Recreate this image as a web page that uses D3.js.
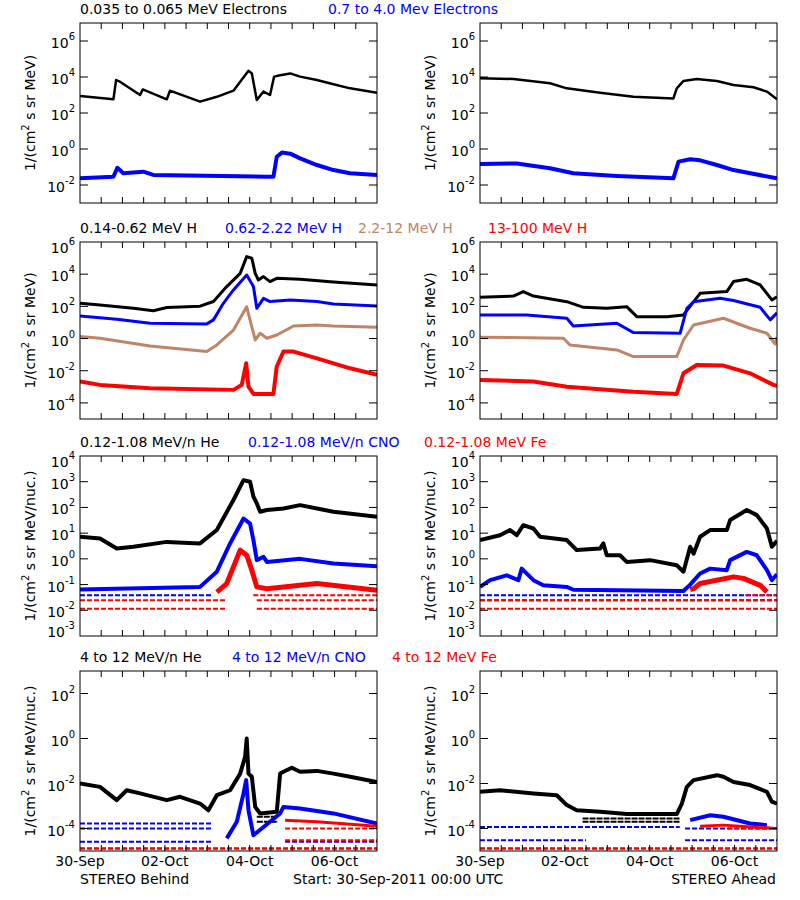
<!DOCTYPE html>
<html><head><meta charset="utf-8">
<script src="https://cdn.jsdelivr.net/npm/d3@7"></script>
<style>body{margin:0;background:#fff}text{font-family:"DejaVu Sans",sans-serif;font-size:14px}</style>
</head><body><svg id="c" width="800" height="900"></svg>
<script>
// hours since 30-Sep-2011 00:00, log10 flux
var days = ["30-Sep", "02-Oct", "04-Oct", "06-Oct"];

// row 1: electrons
var eLoB = [[0,2.94],[18.9,2.76],[20.4,3.83],[22.6,3.74],[34,3.0],[35.5,3.31],[49.1,2.76],[50.9,3.24],[67.9,2.63],[77.4,2.9],[86.8,3.24],[93.4,4.1],[95.3,4.35],[97.2,4.2],[100,2.72],[103.8,3.19],[107.5,3.0],[109.8,4.02],[113.2,4.1],[118.9,4.2],[124.5,4.02],[134,3.83],[143.4,3.6],[152.8,3.37],[168,3.13]];
var eHiB = [[0,-1.63],[18.9,-1.54],[21.1,-1.04],[24.5,-1.35],[35.8,-1.26],[41.5,-1.44],[105.7,-1.54],[109.4,-1.54],[111.3,-0.43],[114.2,-0.2],[118.9,-0.26],[124.5,-0.52],[134,-0.89],[143.4,-1.17],[152.8,-1.35],[168,-1.44]];
var eLoA = [[0,3.93],[18.9,3.89],[39.6,3.65],[49.1,3.37],[67.9,3.13],[86.8,2.9],[109.4,2.81],[111.3,3.37],[115.1,3.78],[122.6,3.89],[134,3.78],[143.4,3.56],[154.7,3.43],[162.3,3.19],[168,2.76]];
var eHiA = [[0,-0.83],[20.8,-0.8],[39.6,-1.07],[52.8,-1.35],[77.4,-1.5],[109.4,-1.63],[112.3,-0.7],[118.9,-0.57],[124.5,-0.63],[134,-0.89],[143.4,-1.17],[168,-1.63]];

// row 2: protons
var h1B = [[0,2.19],[11.3,2.09],[30.2,1.88],[41.5,1.73],[49.1,1.93],[67.9,2.01],[75.5,2.3],[83,3.23],[90.6,4.05],[94.3,5.09],[97.2,4.99],[99.1,4.05],[100.9,3.64],[103.8,3.85],[107.5,3.54],[111.3,3.74],[124.5,3.68],[143.4,3.52],[168,3.33]];
var h2B = [[0,1.4],[20.8,1.2],[39.6,0.95],[71.7,0.91],[75.5,1.16],[81.1,2.19],[86.8,3.02],[94.3,3.95],[98.1,3.23],[100,1.88],[103.8,2.5],[107.5,2.3],[118.9,2.4],[134,2.3],[143.4,2.15],[168,2.02]];
var h3B = [[0,0.12],[11.3,0.02],[39.6,-0.46],[71.7,-0.81],[77.4,-0.4],[86.8,0.53],[94.3,1.98],[96.2,1.15],[99.1,-0.09],[101.9,0.33],[105.7,0.02],[111.3,0.22],[120.8,0.78],[134,0.84],[143.4,0.78],[168,0.7]];
var h4B = [[0,-2.67],[11.3,-2.88],[39.6,-3.09],[86.8,-3.19],[91.5,-2.88],[94,-1.54],[95.3,-2.99],[98.1,-3.44],[109.4,-3.44],[111.3,-1.74],[115.1,-0.81],[120.8,-0.81],[134,-1.23],[152.8,-1.85],[168,-2.26]];
var h1A = [[0,2.56],[18.9,2.64],[24.5,2.92],[30.2,2.64],[49.1,2.29],[58.5,1.94],[71.7,1.88],[83,1.98],[88.7,1.36],[105.7,1.36],[115.1,1.47],[124.5,2.81],[139.6,2.92],[143.4,3.54],[150.9,3.68],[158.5,3.33],[165.1,2.4],[168,2.6]];
var h2A = [[0,1.47],[26.4,1.47],[49.1,1.26],[52.8,0.78],[77.4,0.95],[86.8,0.37],[113.2,0.33],[117,1.88],[120.8,2.29],[135.8,2.5],[143.4,2.36],[158.5,1.94],[164.2,1.16],[168,1.6]];
var h3A = [[0,0.08],[47.2,0.02],[50.9,-0.4],[77.4,-0.71],[86.8,-1.12],[111.3,-1.12],[115.1,-0.09],[120.8,0.84],[137.7,1.26],[152.8,0.64],[162.3,0.33],[167,-0.34],[168,0.1]];
var h4A = [[0,-2.57],[30.2,-2.67],[49.1,-2.99],[86.8,-3.3],[111.3,-3.44],[115.1,-2.16],[122.6,-1.64],[137.7,-1.68],[152.8,-2.16],[166,-2.88],[168,-2.94]];

// row 3: 0.12-1.08 MeV/n heavy ions
var heB = [[0,0.86],[11.3,0.79],[20.8,0.4],[30.2,0.47],[49.1,0.66],[67.9,0.6],[77.4,1.12],[86.8,2.29],[92.5,3.06],[96.2,3.0],[98.1,2.42],[100,2.16],[101.9,1.83],[105.7,1.9],[115.1,1.96],[124.5,2.09],[143.4,1.83],[168,1.64]];
var cnoB = [[0,-1.19],[67.9,-1.09],[77.4,-0.5],[84.9,0.6],[92.5,1.57],[96.2,1.37],[98.1,0.73],[100,-0.05],[103.8,0.08],[105.7,-0.12],[124.5,0.0],[143.4,-0.18],[168,-0.29]];
var feB = [[77.4,-1.29],[83,-0.96],[86.8,-0.31],[90.6,0.34],[94.3,0.14],[97.2,-0.44],[100,-1.09],[105.7,-1.16],[134,-0.96],[168,-1.22]];
var heA = [[0,0.73],[11.3,0.92],[17,1.12],[20.8,0.92],[24.5,1.31],[30.2,1.18],[34,0.86],[49.1,0.73],[54.7,0.34],[67.9,0.4],[69.8,0.6],[71.7,0.14],[79.2,0.14],[83,-0.12],[96.2,-0.05],[111.3,-0.25],[115.1,-0.5],[118.9,0.47],[120.8,0.2],[124.5,0.86],[130.2,1.12],[139.6,1.12],[141.5,1.51],[150.9,1.9],[156.6,1.7],[162.3,1.18],[165.1,0.47],[168,0.7]];
var cnoA = [[0,-1.09],[5.7,-0.83],[15.1,-0.64],[21.7,-0.83],[23.6,-0.38],[30.2,-0.83],[35.8,-1.03],[49.1,-1.09],[52.8,-1.2],[115.1,-1.25],[118.9,-1.0],[124.5,-0.57],[130.2,-0.38],[139.6,-0.44],[141.5,-0.05],[150.9,0.27],[156.6,0.14],[162.3,-0.44],[165.1,-0.83],[168,-0.6]];
var feA = [[118.9,-1.2],[120.8,-1.16],[124.5,-0.96],[143.4,-0.7],[149,-0.76],[158.5,-1.03],[162.3,-1.29]];

// row 4: 4-12 MeV/n heavy ions
var he4B = [[0,-2.0],[11.3,-2.15],[20.8,-2.74],[26.4,-2.3],[34,-2.44],[49.1,-2.74],[56.6,-2.59],[67.9,-2.89],[72.6,-3.19],[77.4,-2.52],[84.9,-2.3],[90.6,-1.56],[93.4,-0.81],[94.3,0.0],[95.3,-1.56],[97.2,-1.7],[99.1,-3.04],[101.9,-3.33],[111.3,-3.26],[113.2,-1.56],[115.1,-1.48],[119.8,-1.3],[124.5,-1.48],[134,-1.44],[143.4,-1.56],[152.8,-1.7],[168,-1.93]];
var cno4B = [[83,-4.44],[88.7,-3.7],[92.5,-2.44],[94,-1.85],[95.3,-3.19],[98.1,-4.3],[113.2,-3.33],[115.1,-3.04],[124.5,-3.11],[143.4,-3.33],[168,-3.78]];
var fe4B = [[116,-3.63],[134,-3.7],[168,-3.9]];
var he4A = [[0,-2.37],[11.3,-2.3],[30.2,-2.44],[43.4,-2.52],[49.1,-2.96],[54.7,-3.19],[67.9,-3.26],[83,-3.36],[111.3,-3.36],[114.2,-2.89],[117,-2.15],[120.8,-1.85],[134,-1.63],[137.7,-1.7],[143.4,-1.93],[152.8,-2.07],[162.3,-2.37],[165.1,-2.81],[168,-2.9]];
var cno4A = [[118.9,-3.63],[130.2,-3.41],[137.7,-3.48],[152.8,-3.78],[162.3,-3.85]];
var fe4A = [[124.5,-3.9],[137.7,-3.85],[168,-4.0]];

// background floor levels: [start hour, end hour, log10]
var flB3 = {blue:[[0,75,-1.42]], red:[[0,83,-1.61],[0,83,-1.94],[100,168,-1.61],[100,168,-1.94],[98,168,-1.42]]};
var flA3 = {blue:[[0,168,-1.42],[0,168,-1.61]], red:[[0,168,-1.94],[0,168,-1.61],[150,168,-1.42]]};
var flB4 = {black:[[100,112,-3.48],[100,112,-3.7]], blue:[[0,75,-3.78],[0,75,-4.0],[0,75,-4.59],[0,168,-4.89],[116,168,-4.59]], red:[[0,168,-4.89],[116,168,-4.0],[116,168,-4.52]]};
var flA4 = {black:[[58,113,-3.55],[58,113,-3.7]], blue:[[0,113,-3.93],[0,60,-4.52],[0,168,-4.89],[116,168,-4.52],[116,168,-4.0]], red:[[0,168,-4.89],[140,168,-4.0]]};

var tan = "#c08468";
var rows = [
  {top:23, bot:203, dom:[-3,7], unit:"MeV)",
   titles:[["0.035 to 0.065 MeV Electrons","#000",80],["0.7 to 4.0 Mev Electrons","#0000ff",328]],
   left:[[eLoB,"#000",2.5],[eHiB,"#0000ff",4]], right:[[eLoA,"#000",2.5],[eHiA,"#0000ff",4]]},
  {top:242, bot:419, dom:[-5,6], unit:"MeV)",
   titles:[["0.14-0.62 MeV H","#000",80],["0.62-2.22 MeV H","#0000ff",225],["2.2-12 MeV H",tan,358],["13-100 MeV H","#ff0000",488]],
   left:[[h1B,"#000",3],[h2B,"#0000ff",3],[h3B,tan,3],[h4B,"#ff0000",4]], right:[[h1A,"#000",3],[h2A,"#0000ff",3],[h3A,tan,3],[h4A,"#ff0000",4]]},
  {top:456, bot:636, dom:[-3,4], every:1, unit:"MeV/nuc.)",
   titles:[["0.12-1.08 MeV/n He","#000",80],["0.12-1.08 MeV/n CNO","#0000ff",248],["0.12-1.08 MeV Fe","#ff0000",424]],
   left:[[heB,"#000",4],[cnoB,"#0000ff",4],[feB,"#ff0000",5]], right:[[heA,"#000",4],[cnoA,"#0000ff",4],[feA,"#ff0000",5]],
   floorL:flB3, floorR:flA3},
  {top:671, bot:851, dom:[-5,3], unit:"MeV/nuc.)",
   titles:[["4 to 12 MeV/n He","#000",80],["4 to 12 MeV/n CNO","#0000ff",232],["4 to 12 MeV Fe","#ff0000",392]],
   left:[[he4B,"#000",4],[cno4B,"#0000ff",4],[fe4B,"#ff0000",3]], right:[[he4A,"#000",4],[cno4A,"#0000ff",4],[fe4A,"#ff0000",3]],
   floorL:flB4, floorR:flA4}
];
var fcol = {black:"#000", blue:"#0000ff", red:"#ff0000"};

var svg = d3.select("#c");

function panel(r, x0, series, floors) {
  var x = d3.scaleLinear().domain([0,168]).range([x0, x0+297]);
  var y = d3.scaleLog().domain([Math.pow(10,r.dom[0]), Math.pow(10,r.dom[1])]).range([r.bot, r.top]);
  var g = svg.append("g");
  var clip = "cl" + x0 + r.top;
  g.append("clipPath").attr("id", clip).append("rect").attr("x", x0).attr("y", r.top).attr("width", 297).attr("height", r.bot-r.top);
  var pg = g.append("g").attr("clip-path", "url(#" + clip + ")");
  if (floors) {
    ["black","blue","red"].forEach(function(k) {
      (floors[k] || []).forEach(function(f) {
        pg.append("line").attr("x1", x(f[0])).attr("x2", x(f[1])).attr("y1", y(Math.pow(10,f[2]))).attr("y2", y(Math.pow(10,f[2])))
          .attr("stroke", fcol[k]).attr("stroke-width", 2).attr("stroke-dasharray", k=="black" ? "6,1" : "5,2");
      });
    });
  }
  var line = d3.line().x(function(d){return x(d[0]);}).y(function(d){return y(Math.pow(10,d[1]));});
  series.forEach(function(s) {
    pg.append("path").attr("d", line(s[0])).attr("fill", "none").attr("stroke", s[1]).attr("stroke-width", s[2]).attr("stroke-linejoin", "round");
  });
  g.append("rect").attr("x", x0).attr("y", r.top).attr("width", 297).attr("height", r.bot-r.top).attr("fill", "none").attr("stroke", "#000");
  d3.range(12, 168, 12).forEach(function(h) {
    [[r.bot, r.bot-6],[r.top, r.top+6]].forEach(function(p) {
      g.append("line").attr("x1", x(h)).attr("x2", x(h)).attr("y1", p[0]).attr("y2", p[1]).attr("stroke", "#000");
    });
  });
  d3.range(r.dom[0], r.dom[1]+1).forEach(function(e) {
    if (!r.every && e % 2 != 0) return;
    var yy = y(Math.pow(10,e));
    if (e != r.dom[0] && e != r.dom[1]) {
      g.append("line").attr("x1", x0).attr("x2", x0+8).attr("y1", yy).attr("y2", yy).attr("stroke", "#000");
      g.append("line").attr("x1", x0+297).attr("x2", x0+289).attr("y1", yy).attr("y2", yy).attr("stroke", "#000");
    }
    var dy = e == r.dom[0] ? 1 : (e == r.dom[1] ? 11 : 7);
    var t = g.append("text").attr("x", x0-5).attr("y", yy+dy).attr("text-anchor", "end").attr("font-size", 15);
    t.append("tspan").text("10");
    t.append("tspan").attr("dy", -8).attr("font-size", 10).text(e);
  });
  var cy = (r.top + r.bot)/2;
  var yt = g.append("text").attr("transform", "translate(" + (x0-45) + "," + cy + ") rotate(-90)").attr("text-anchor", "middle");
  yt.append("tspan").text("1/(cm");
  yt.append("tspan").attr("dy", -6).attr("font-size", 10).text("2");
  yt.append("tspan").attr("dy", 6).text(" s sr " + r.unit);
  return x;
}

rows.forEach(function(r, i) {
  var xl = panel(r, 80, r.left, r.floorL);
  var xr = panel(r, 480, r.right, r.floorR);
  r.titles.forEach(function(t) {
    svg.append("text").attr("x", t[2]).attr("y", r.top-9).attr("fill", t[1]).text(t[0]);
  });
  if (i == 3) {
    [xl, xr].forEach(function(x) {
      days.forEach(function(d, k) {
        svg.append("text").attr("x", x(k*48)).attr("y", 866).attr("text-anchor", "middle").text(d);
      });
    });
  }
});
svg.append("text").attr("x", 80).attr("y", 884).text("STEREO Behind");
svg.append("text").attr("x", 293).attr("y", 884).text("Start: 30-Sep-2011 00:00 UTC");
svg.append("text").attr("x", 776).attr("y", 884).attr("text-anchor", "end").text("STEREO Ahead");
</script></body></html>
